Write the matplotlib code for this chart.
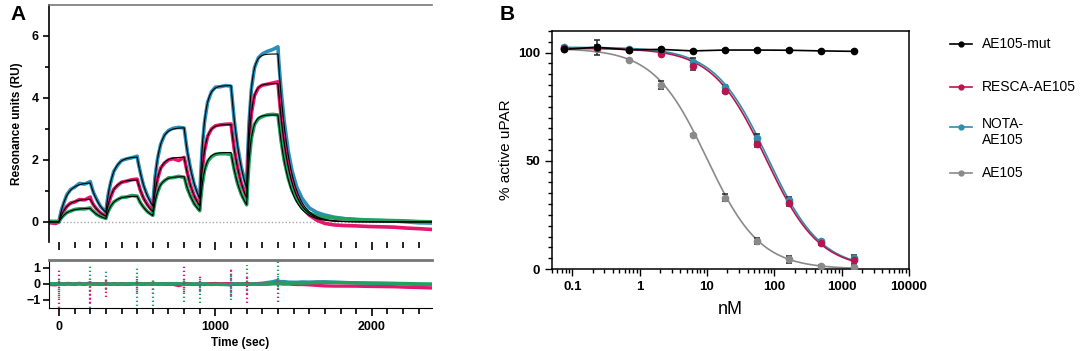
import numpy as np
import matplotlib
matplotlib.use("Agg")
import matplotlib.pyplot as plt
from matplotlib.lines import Line2D
from matplotlib.ticker import MultipleLocator, FixedLocator, LogLocator, NullFormatter

plt.rcParams['font.family'] = ['Liberation Sans', 'DejaVu Sans']

# ---------------- Panel A: single-cycle SPR sensorgrams ----------------
t_sec = [-60, -20, 0,
         5, 15, 30, 50, 75, 100, 130, 165, 200, 205, 220, 240, 265, 300,
         305, 315, 330, 350, 375, 400, 430, 465, 500, 505, 520, 540, 565, 600,
         605, 615, 630, 650, 675, 700, 730, 765, 800, 805, 820, 840, 865, 900,
         905, 915, 930, 950, 975, 1000, 1030, 1065, 1100, 1105, 1120, 1140, 1165, 1200,
         1205, 1215, 1230, 1250, 1275, 1300, 1330, 1365, 1400,
         1405, 1420, 1440, 1465, 1490, 1520, 1555, 1600, 1650, 1700, 1760, 1830,
         1900, 1980, 2060, 2140, 2220, 2300, 2400]

ru_cyan = [0.02, -0.01, 0.00,
           0.15, 0.38, 0.60, 0.88, 1.05, 1.12, 1.24, 1.22, 1.30, 1.20, 0.95, 0.74, 0.50, 0.31,
           0.55, 0.90, 1.26, 1.63, 1.83, 1.98, 2.03, 2.07, 2.12, 1.95, 1.60, 1.18, 0.85, 0.52,
           0.90, 1.48, 2.03, 2.50, 2.81, 2.95, 3.02, 3.05, 3.03, 2.85, 2.28, 1.75, 1.20, 0.76,
           1.40, 2.35, 3.20, 3.86, 4.20, 4.35, 4.36, 4.40, 4.38, 4.12, 3.30, 2.50, 1.78, 1.09,
           1.98, 3.20, 4.28, 4.98, 5.30, 5.42, 5.50, 5.56, 5.65,
           5.20, 4.25, 3.25, 2.30, 1.65, 1.12, 0.75, 0.45, 0.30, 0.22, 0.15, 0.10,
           0.07, 0.05, 0.04, 0.03, 0.00, -0.03, -0.04]

ru_pink = [-0.03, -0.05, 0.00,
           0.09, 0.22, 0.35, 0.50, 0.61, 0.64, 0.72, 0.71, 0.80, 0.70, 0.55, 0.42, 0.29, 0.18,
           0.33, 0.57, 0.80, 1.05, 1.18, 1.28, 1.31, 1.36, 1.38, 1.28, 1.02, 0.77, 0.56, 0.34,
           0.60, 1.00, 1.38, 1.74, 1.90, 2.00, 2.04, 1.98, 2.08, 1.97, 1.60, 1.18, 0.83, 0.52,
           0.98, 1.65, 2.28, 2.76, 3.00, 3.10, 3.13, 3.15, 3.16, 2.95, 2.36, 1.80, 1.25, 0.78,
           1.55, 2.60, 3.50, 4.08, 4.33, 4.41, 4.44, 4.48, 4.52,
           4.20, 3.40, 2.55, 1.80, 1.25, 0.80, 0.48, 0.22, 0.05, -0.05, -0.10, -0.12,
           -0.13, -0.15, -0.16, -0.17, -0.20, -0.22, -0.25]

ru_green = [0.01, 0.02, 0.00,
            0.05, 0.13, 0.21, 0.30, 0.35, 0.40, 0.42, 0.42, 0.45, 0.40, 0.34, 0.24, 0.17, 0.11,
            0.20, 0.35, 0.49, 0.64, 0.72, 0.79, 0.80, 0.85, 0.83, 0.78, 0.62, 0.48, 0.33, 0.21,
            0.40, 0.69, 0.96, 1.21, 1.33, 1.42, 1.43, 1.47, 1.44, 1.38, 1.08, 0.84, 0.58, 0.36,
            0.70, 1.17, 1.65, 1.95, 2.10, 2.18, 2.20, 2.20, 2.18, 2.10, 1.70, 1.27, 0.90, 0.55,
            1.15, 1.95, 2.70, 3.15, 3.33, 3.40, 3.45, 3.47, 3.45,
            3.25, 2.62, 1.98, 1.42, 1.02, 0.70, 0.45, 0.28, 0.20, 0.15, 0.12, 0.10,
            0.08, 0.06, 0.05, 0.04, 0.03, 0.01, 0.00]

# fitted 1:1 kinetics
inject_start = [0, 300, 600, 900, 1200]
contact_time = 200
k_obs = [0.022, 0.026, 0.031, 0.038, 0.045]
k_d = 0.014
fit_cyan = [1.27, 2.10, 3.04, 4.40, 5.42]
fit_pink = [0.74, 1.36, 2.09, 3.14, 4.46]
fit_green = [0.44, 0.83, 1.46, 2.24, 3.45]

# residual spikes at injection switches (time, top, bottom)
spike_t = [0, 200, 300, 500, 600, 800, 900, 1100, 1200, 1400]
spk_cyan = [(0.3, -0.4), (0.4, -1.5), (0.85, -0.3), (0.5, -1.4), (0.3, -0.4),
            (0.4, -0.6), (0.5, -0.5), (0.6, -0.8), (0.5, -0.6), (0.5, -0.3)]
spk_pink = [(0.85, -1.5), (0.3, -1.2), (0.3, -0.8), (0.3, -0.5), (0.2, -0.6),
            (1.1, -0.5), (0.6, -0.4), (1.05, -0.7), (0.4, -1.2), (0.3, -1.1)]
spk_green = [(0.4, -0.9), (1.25, -0.5), (0.4, -0.4), (1.15, -0.6), (0.3, -1.4),
             (0.4, -1.1), (0.3, -1.2), (0.8, -1.0), (1.2, -0.4), (1.45, -0.2)]

# ---------------- Panel B: competition curves ----------------
conc_nM = [0.0762, 0.229, 0.686, 2.06, 6.17, 18.5, 55.6, 167, 500, 1500]
mut_vals = [101.5, 102.5, 101.3, 101.5, 100.8, 101.2, 101.2, 101.1, 100.8, 100.6]
mut_err = [0.5, 3.5, 0.5, 0.5, 0.6, 0.5, 0.5, 0.5, 0.5, 0.5]
resca_vals = [102.0, 102.3, 101.3, 99.5, 94.0, 82.5, 58.0, 30.5, 12.0, 4.0]
resca_err = [0.5, 0.8, 0.5, 0.8, 2.2, 1.2, 1.5, 1.2, 0.8, 1.5]
nota_vals = [102.5, 102.5, 101.6, 100.3, 95.8, 84.0, 60.5, 32.0, 12.8, 5.0]
nota_err = [0.5, 0.8, 0.5, 0.8, 1.5, 1.2, 1.8, 1.2, 0.8, 1.5]
ae105_vals = [101.5, 101.8, 96.5, 85.0, 62.0, 33.0, 13.0, 4.5, 1.5, 0.8]
ae105_err = [0.5, 0.5, 0.5, 2.0, 0.5, 1.5, 1.5, 1.5, 0.5, 0.5]
# four-parameter logistic fits (top, bottom, IC50, hill)
fit_resca = (102.0, 0.0, 75.0, 1.1)
fit_nota = (102.5, 0.0, 80.0, 1.1)
fit_ae105 = (102.0, 0.0, 10.0, 1.1)

legend_names = ['AE105-mut', 'RESCA-AE105', 'NOTA-\nAE105', 'AE105']

c_cyan, c_pink, c_green = '#2c8fb8', '#e3176b', '#21a05f'
c_teal, c_crim, c_gray = '#2e8fae', '#b5164f', '#8a8a8a'


def sensorgram_fit(t, plateaus):
    t = np.asarray(t, dtype=float)
    r = np.zeros_like(t)
    level = 0.0
    for i, (s, p, k) in enumerate(zip(inject_start, plateaus, k_obs)):
        nxt = inject_start[i + 1] if i + 1 < len(inject_start) else np.inf
        a = (t >= s) & (t < s + contact_time)
        r[a] = p + (level - p) * np.exp(-k * (t[a] - s))
        top = p + (level - p) * np.exp(-k * contact_time)
        d = (t >= s + contact_time) & (t < nxt)
        r[d] = top * np.exp(-k_d * (t[d] - s - contact_time))
        if np.isfinite(nxt):
            level = top * np.exp(-k_d * (nxt - s - contact_time))
    return r


def logistic(x, p):
    top, bottom, ic50, h = p
    return bottom + (top - bottom) / (1 + (x / ic50) ** h)


fig = plt.figure(figsize=(10.84, 3.51), dpi=100)

axA = fig.add_axes([49 / 1084, 1 - 242 / 351, 383 / 1084, 237 / 351])
axR = fig.add_axes([49 / 1084, 1 - 308 / 351, 383 / 1084, 48 / 351])
axB = fig.add_axes([552 / 1084, 1 - 269 / 351, 357 / 1084, 238 / 351])

xlimA = (-64, 2385)
t_dense = np.linspace(xlimA[0], xlimA[1], 3000)
minor_t = [x for x in range(100, 2400, 100) if x % 1000 != 0]

axA.axhline(0, color='#aaaaaa', lw=1, ls=(0, (1, 1.5)), zorder=1)
for vals, col in [(ru_cyan, c_cyan), (ru_pink, c_pink), (ru_green, c_green)]:
    axA.plot(t_sec, vals, color=col, lw=2.6, zorder=2)
for fp in (fit_cyan, fit_pink, fit_green):
    axA.plot(t_dense, sensorgram_fit(t_dense, fp), color='black', lw=0.8, zorder=3)

axA.set_xlim(*xlimA)
axA.set_ylim(-0.65, 7.0)
axA.yaxis.set_major_locator(FixedLocator([0, 2, 4, 6]))
axA.yaxis.set_minor_locator(FixedLocator([1, 3, 5]))
axA.xaxis.set_major_locator(FixedLocator([0, 1000, 2000]))
axA.xaxis.set_minor_locator(FixedLocator(minor_t))
axA.tick_params(axis='x', which='both', labelbottom=False, direction='out')
axA.tick_params(axis='x', which='major', length=6, width=1.2)
axA.tick_params(axis='x', which='minor', length=4, width=1.2)
axA.tick_params(axis='y', which='major', length=4, width=1.2, labelsize=9)
axA.tick_params(axis='y', which='minor', length=3, width=1.2)
for lab in axA.get_yticklabels():
    lab.set_fontweight('bold')
axA.spines['right'].set_visible(False)
axA.spines['bottom'].set_visible(False)
axA.spines['top'].set_color('#777777')
axA.spines['top'].set_linewidth(1.2)
axA.spines['left'].set_linewidth(1.2)
axA.set_ylabel('Resonance units (RU)', fontsize=8.5, fontweight='bold', labelpad=6)
fig.text(10 / 1084, 1 - 14 / 351, 'A', fontsize=15, fontweight='bold', va='center')

# residuals
for vals, col, fp, spk in [(ru_cyan, c_cyan, fit_cyan, spk_cyan),
                           (ru_pink, c_pink, fit_pink, spk_pink),
                           (ru_green, c_green, fit_green, spk_green)]:
    res = np.asarray(vals) - sensorgram_fit(t_sec, fp)
    axR.plot(t_sec, res, color=col, lw=2.4, zorder=2)
    axR.vlines(spike_t, [s[1] for s in spk], [s[0] for s in spk], color=col,
               lw=1.6, ls=(0, (0.6, 1.2)), zorder=3)
axR.set_xlim(*xlimA)
axR.set_ylim(-1.5, 1.5)
axR.yaxis.set_major_locator(FixedLocator([-1, 0, 1]))
axR.xaxis.set_major_locator(FixedLocator([0, 1000, 2000]))
axR.xaxis.set_minor_locator(FixedLocator(minor_t))
axR.tick_params(axis='x', which='major', length=6, width=1.2, labelsize=9)
axR.tick_params(axis='x', which='minor', length=4, width=1.2)
axR.tick_params(axis='y', which='major', length=4, width=1.2, labelsize=9, pad=2)
for lab in axR.get_xticklabels() + axR.get_yticklabels():
    lab.set_fontweight('bold')
axR.spines['right'].set_visible(False)
axR.spines['top'].set_color('#777777')
axR.spines['top'].set_linewidth(2)
axR.set_xlabel('Time (sec)', fontsize=8.5, fontweight='bold', labelpad=3)

# ---------------- Panel B ----------------
x_fit = np.logspace(np.log10(conc_nM[0]), np.log10(conc_nM[-1]), 400)
err_kw = dict(fmt='none', ecolor='#222222', elinewidth=1.1, capsize=2.5, capthick=1.1, zorder=4)

axB.plot(x_fit, logistic(x_fit, fit_ae105), color=c_gray, lw=1.2, zorder=2)
axB.errorbar(conc_nM, ae105_vals, yerr=ae105_err, **err_kw)
axB.plot(conc_nM, ae105_vals, 'o', color=c_gray, ms=4.5, zorder=5)

axB.plot(x_fit, logistic(x_fit, fit_nota), color=c_teal, lw=1.2, zorder=2)
axB.errorbar(conc_nM, nota_vals, yerr=nota_err, **err_kw)
axB.plot(conc_nM, nota_vals, 'o', color=c_teal, ms=4.5, zorder=5)

axB.plot(x_fit, logistic(x_fit, fit_resca), color=c_crim, lw=1.2, zorder=2)
axB.errorbar(conc_nM, resca_vals, yerr=resca_err, **err_kw)
axB.plot(conc_nM, resca_vals, 'o', color=c_crim, ms=4.5, zorder=5)

axB.plot(conc_nM, mut_vals, '-', color='black', lw=1.2, zorder=3)
axB.errorbar(conc_nM, mut_vals, yerr=mut_err, **err_kw)
axB.plot(conc_nM, mut_vals, 'o', color='black', ms=4.5, zorder=6)

axB.set_xscale('log')
axB.set_xlim(0.05, 10000)
axB.set_ylim(0, 110)
axB.xaxis.set_minor_locator(LogLocator(base=10, subs=np.arange(2, 10), numticks=20))
axB.xaxis.set_minor_formatter(NullFormatter())
axB.set_xticks([0.1, 1, 10, 100, 1000, 10000])
axB.set_xticklabels(['0.1', '1', '10', '100', '1000', '10000'])
axB.yaxis.set_major_locator(FixedLocator([0, 50, 100]))
axB.yaxis.set_minor_locator(MultipleLocator(5))
axB.tick_params(axis='both', which='major', length=5, width=1, labelsize=9.5)
axB.tick_params(axis='both', which='minor', length=3, width=1)
for lab in axB.get_xticklabels() + axB.get_yticklabels():
    lab.set_fontweight('bold')
for sp in axB.spines.values():
    sp.set_linewidth(1.1)
axB.set_xlabel('nM', fontsize=13, labelpad=6)
axB.set_ylabel('% active uPAR', fontsize=11)
fig.text(500 / 1084, 1 - 14 / 351, 'B', fontsize=15, fontweight='bold', va='center')

# legend laid out by hand so the two-line entry sits like the original
leg_colors = ['black', c_crim, c_teal, c_gray]
handle_y = [44, 87, 127, 173]
text_y = [44, 87, 132, 173]
for name, col, hy, ty in zip(legend_names, leg_colors, handle_y, text_y):
    yf = 1 - hy / 351
    fig.add_artist(Line2D([950 / 1084, 972 / 1084], [yf, yf], transform=fig.transFigure,
                          color=col, lw=1.2))
    fig.add_artist(Line2D([961 / 1084], [yf], transform=fig.transFigure, color=col,
                          marker='o', ms=3.5, lw=0))
    fig.text(982 / 1084, 1 - ty / 351, name, fontsize=10, va='center', ha='left',
             linespacing=1.2)

fig.savefig('out.png', dpi=100)
